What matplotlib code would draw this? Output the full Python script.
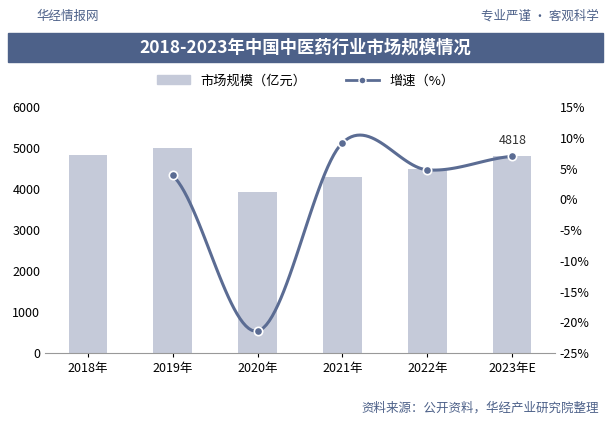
import numpy as np
import matplotlib.pyplot as plt
from matplotlib.patches import Rectangle, Patch
from matplotlib.lines import Line2D

plt.rcParams["font.family"] = "Noto Sans CJK SC"

years = ["2018年", "2019年", "2020年", "2021年", "2022年", "2023年E"]
scale = [4830, 5000, 3930, 4290, 4480, 4818]
growth_years = [1, 2, 3, 4, 5]
growth = [3.9, -21.4, 9.2, 4.8, 7.0]

BAR = "#c5cad9"
LINE = "#5b6c93"
BANNER = "#4d6189"


def catmull(xs, ys, n=30):
    xs = np.asarray(xs, float)
    ys = np.asarray(ys, float)
    px = np.concatenate([[2 * xs[0] - xs[1]], xs, [2 * xs[-1] - xs[-2]]])
    py = np.concatenate([[ys[0]], ys, [ys[-1]]])
    ox, oy = [], []
    t = np.linspace(0, 1, n)
    for i in range(1, len(px) - 2):
        for arr, out in ((px, ox), (py, oy)):
            p0, p1, p2, p3 = arr[i - 1:i + 3]
            out.extend(0.5 * (2 * p1 + (-p0 + p2) * t
                              + (2 * p0 - 5 * p1 + 4 * p2 - p3) * t ** 2
                              + (-p0 + 3 * p1 - 3 * p2 + p3) * t ** 3))
    return np.array(ox), np.array(oy)


fig = plt.figure(figsize=(6.11, 4.25), dpi=100)
ax = fig.add_axes([0.074, 0.169, 0.834, 0.579])
ax2 = ax.twinx()

x = np.arange(len(years))
ax.bar(x, scale, width=0.45, color=BAR, zorder=2)
ax.set_ylim(0, 6000)
ax.set_yticks(range(0, 6001, 1000))
ax.set_xlim(-0.5, 5.5)
ax.set_xticks(x)
ax.set_xticklabels(years, fontsize=9)
ax.tick_params(axis="y", labelsize=9, length=0)
ax.tick_params(axis="x", length=3)
for s in ["top", "right", "left"]:
    ax.spines[s].set_visible(False)
ax.spines["bottom"].set_color("#999999")

sx, sy = catmull(growth_years, growth)
ax2.plot(sx, sy, color=LINE, lw=2.2, zorder=3)
ax2.plot(growth_years, growth, "o", color=LINE, ms=6, mec="white", mew=1.2, zorder=4)
ax2.set_ylim(-25, 15)
ax2.set_yticks(range(-25, 16, 5))
ax2.set_yticklabels([f"{v}%" for v in range(-25, 16, 5)], fontsize=9)
ax2.tick_params(axis="y", length=0)
for s in ["top", "right", "left", "bottom"]:
    ax2.spines[s].set_visible(False)
ax.annotate(f"{scale[-1]}", (x[-1], scale[-1]), xytext=(0, 8),
            textcoords="offset points", ha="center", fontsize=9, color="#333333")

# legend
handles = [Patch(color=BAR),
           Line2D([], [], color=LINE, lw=2, marker="o", ms=5, mec="white")]
fig.legend(handles, ["市场规模（亿元）", "增速（%）"], loc="center",
           bbox_to_anchor=(0.5, 0.81), ncol=2, frameon=False, fontsize=9.5,
           handlelength=2.5, columnspacing=3)

# header and banner
fig.patches.append(Rectangle((0.013, 1 - 62 / 425), 0.974, 29 / 425,
                             transform=fig.transFigure, color=BANNER, zorder=0))
fig.text(0.5, 1 - 47.5 / 425, "2018-2023年中国中医药行业市场规模情况", ha="center", va="center",
         color="white", fontsize=12.5, fontweight="bold")
fig.text(0.06, 1 - 16 / 425, "华经情报网", ha="left", va="center", fontsize=9, color="#4d6189")
fig.text(0.98, 1 - 16 / 425, "专业严谨 • 客观科学", ha="right", va="center", fontsize=9, color="#4d6189")
fig.text(0.98, 1 - 408 / 425, "资料来源：公开资料，华经产业研究院整理", ha="right", va="center",
         fontsize=9, color="#4d6189")

fig.savefig("out.png", dpi=100)
